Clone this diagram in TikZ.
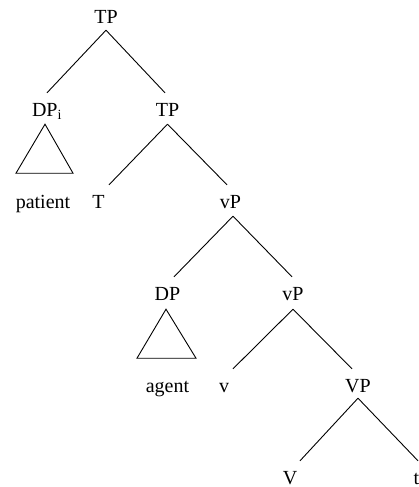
\documentclass[tikz,border=0pt]{standalone}
\usepackage{fontspec}
\setmainfont{Liberation Serif}
\begin{document}
\begin{tikzpicture}[x=1pt,y=-1pt,
  lbl/.style={anchor=base,inner sep=0pt,text height=23pt,text depth=6pt,font=\fontsize{20}{24}\selectfont},
  edge/.style={line width=0.9pt},
  tri/.style={line width=0.9pt,line join=miter}]
\useasboundingbox (0,0) rectangle (419,487);
% labels
\node[lbl] (tp0) at (106,24) {TP};
\node[lbl] (dpi) at (47,116) {DP\textsubscript{i}};
\node[lbl] (tp1) at (167.5,116) {TP};
\node[lbl] (pat) at (43,208) {patient};
\node[lbl] (t1) at (98.5,208) {T};
\node[lbl] (vp1) at (230.5,208) {vP};
\node[lbl] (dp2) at (167.5,300) {DP};
\node[lbl] (vp2) at (293,300) {vP};
\node[lbl] (ag) at (167.5,392) {agent};
\node[lbl] (sv) at (224,392) {v};
\node[lbl] (bvp) at (358,392) {VP};
\node[lbl] (bv) at (290,484) {V};
\node[lbl] (tr) at (416.5,484) {t};
% branches
\draw[edge] (tp0.south) -- (dpi.north);
\draw[edge] (tp0.south) -- ([xshift=-2.5pt]tp1.north);
\draw[edge] ([yshift=-2pt]tp1.south) -- ([xshift=10.5pt]t1.north);
\draw[edge] ([yshift=-2pt]tp1.south) -- ([xshift=-3.5pt]vp1.north);
\draw[edge] ([xshift=2.5pt,yshift=-2pt]vp1.south) -- ([xshift=6.5pt]dp2.north);
\draw[edge] ([xshift=2.5pt,yshift=-2pt]vp1.south) -- ([xshift=-1pt]vp2.north);
\draw[edge] ([yshift=-3pt]vp2.south) -- ([xshift=9pt]sv.north);
\draw[edge] ([yshift=-3pt]vp2.south) -- ([xshift=-6pt]bvp.north);
\draw[edge] (bvp.south) -- ([xshift=10pt]bv.north);
\draw[edge] (bvp.south) -- ([xshift=1.5pt]tr.north);
% triangles
\draw[tri] ([xshift=-2pt,yshift=-2pt]dpi.south) -- ++(-29,49) -- ++(57,0) -- cycle;
\draw[tri] ([xshift=-1.5pt,yshift=-3pt]dp2.south) -- ++(-29,49) -- ++(59,0) -- cycle;
\end{tikzpicture}
\end{document}
